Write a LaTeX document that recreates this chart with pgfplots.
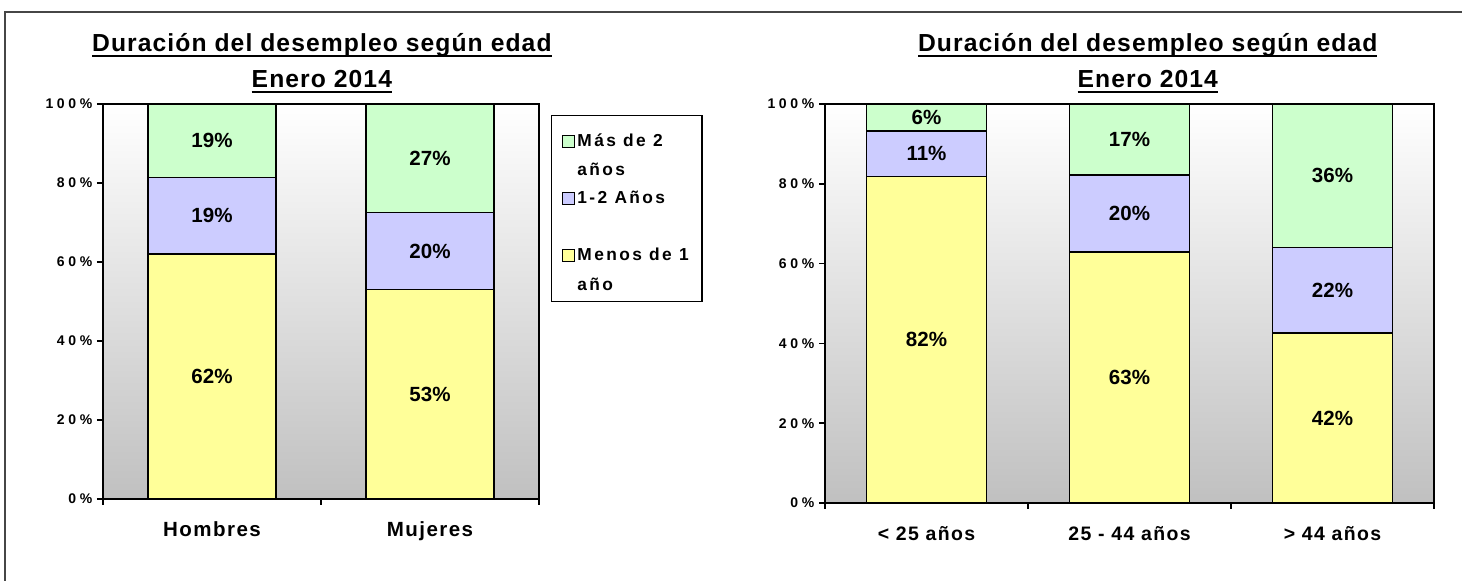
\documentclass[border=0pt]{standalone}
\usepackage{fontspec}
\setmainfont{Liberation Sans}
\newfontfamily\ticksfont[LetterSpace=26]{Liberation Sans}
\newfontfamily\catfont[LetterSpace=7]{Liberation Sans}
\newfontfamily\titlefont[LetterSpace=4.4]{Liberation Sans}
\newfontfamily\legfont[LetterSpace=14]{Liberation Sans}
\usepackage{pgfplots}
\usepackage{pgfplotstable}
\pgfplotsset{compat=1.18}

\definecolor{colmas}{RGB}{204,255,204}
\definecolor{coluno}{RGB}{204,204,255}
\definecolor{colmenos}{RGB}{255,255,153}
\definecolor{fondo}{RGB}{192,192,192}
\definecolor{marco}{RGB}{70,70,70}

% underline a bit below the baseline
\newcommand{\ul}[1]{\leavevmode\setbox0=\hbox{#1}\rlap{\rule[-4pt]{\wd0}{1.4pt}}\box0}

% share of each duration (percent), segments bottom to top
\pgfplotstableread{
x menos uno mas
0 62.0 19.4 18.6
1 53.0 19.5 27.5
}\sexo
\pgfplotstableread{
x menos uno mas
0 81.8 11.5 6.7
1 62.9 19.3 17.8
2 42.6 21.4 36.0
}\edad

\pgfplotsset{
  grafico/.style={
    scale only axis,
    ybar stacked,
    ymin=0, ymax=100,
    ytick={0,20,...,100},
    yticklabels={0\%,20\%,40\%,60\%,80\%,100\%},
    axis x line*=bottom, axis y line*=left,
    axis line style={line width=1.6pt, black},
    axis background/.style={shade, top color=white, bottom color=fondo,
      draw=black, line width=1.1pt},
    tick align=outside,
    major tick length=4.5pt,
    tick style={line width=1.2pt, black},
    x tick label as interval,
    yticklabel style={font=\ticksfont\bfseries\fontsize{10.5}{12}\selectfont},
    xticklabel style={font=\catfont\bfseries\fontsize{15.4}{18}\selectfont,
      anchor=base, yshift=-24pt},
    title style={font=\titlefont\bfseries\fontsize{18.5}{27.4}\selectfont,
      align=center, inner sep=0pt, anchor=south, yshift=2pt},
    every axis plot/.append style={draw=black, line width=1.2pt},
  },
  caja/.style={legend image code/.code={
    \draw[##1, line width=0.6pt] (0pt,#1) rectangle (8.7pt,#1+8.7pt);}},
  etiquetas/.style={
    scale only axis, hide axis,
    ymin=0, ymax=100,
  },
  rotulo/.style={draw=none, mark=none,
    point meta=explicit symbolic,
    nodes near coords={\pgfplotspointmeta\%},
    every node near coord/.append style={anchor=center,
      font=\bfseries\fontsize{15.4}{18}\selectfont}},
}

\begin{document}
\begin{tikzpicture}
\useasboundingbox (0,0) rectangle (1096.5pt,435.75pt);
\draw[marco, line width=1.1pt] (3.75pt,0) -- (3.75pt,426.75pt) -- (1096.5pt,426.75pt);

% ---- left: by sex
\begin{axis}[
  grafico,
  at={(77.25pt,61.5pt)}, anchor=south west,
  width=327pt, height=296.25pt,
  bar width=96pt,
  xmin=-0.5, xmax=1.5,
  xtick={-0.5,0.5,1.5},
  xticklabels={Hombres,Mujeres},
  title={\ul{Duración del desempleo según edad}\\\ul{Enero 2014}},
  title style={at={(0.502,1)}},
  legend style={at={(1.0275,0.972)}, anchor=north west,
    draw=black, line width=1pt,
    font=\legfont\bfseries\fontsize{13}{22}\selectfont,
    cells={align=left}, row sep=6pt, inner xsep=8pt, inner ysep=5pt},
  legend cell align=left,
  reverse legend,
]
\addplot[fill=colmenos, caja=6.5pt] table[x=x, y=menos] {\sexo};
\addlegendentry{Menos de 1\\año}
\addplot[fill=coluno, caja=6.5pt] table[x=x, y=uno] {\sexo};
\addlegendentry{1-2 Años\\\mbox{}}
\addplot[fill=colmas, caja=3pt] table[x=x, y=mas] {\sexo};
\addlegendentry{\rule{0pt}{16pt}Más de 2\\años}
\end{axis}
\begin{axis}[etiquetas,
  at={(77.25pt,61.5pt)}, anchor=south west,
  width=327pt, height=296.25pt, xmin=-0.5, xmax=1.5]
\addplot[rotulo] coordinates {
  (0,31.0)[62] (0,71.7)[19] (0,90.7)[19]
  (1,26.5)[53] (1,62.75)[20] (1,86.25)[27]};
\end{axis}

% ---- right: by age
\begin{axis}[
  grafico,
  at={(618.75pt,58.5pt)}, anchor=south west,
  width=456.75pt, height=299.25pt,
  bar width=90pt,
  xmin=-0.5, xmax=2.5,
  xtick={-0.5,0.5,1.5,2.5},
  xticklabels={< 25 años, 25 - 44 años, > 44 años},
  xticklabel style={font=\catfont\bfseries\fontsize{14.6}{18}\selectfont},
  title={\ul{Duración del desempleo según edad}\\\ul{Enero 2014}},
  title style={at={(0.53,1)}},
]
\addplot[fill=colmenos] table[x=x, y=menos] {\edad};
\addplot[fill=coluno] table[x=x, y=uno] {\edad};
\addplot[fill=colmas] table[x=x, y=mas] {\edad};
\end{axis}
\begin{axis}[etiquetas,
  at={(618.75pt,58.5pt)}, anchor=south west,
  width=456.75pt, height=299.25pt, xmin=-0.5, xmax=2.5]
\addplot[rotulo] coordinates {
  (0,40.9)[82] (0,87.55)[11] (0,96.65)[6]
  (1,31.45)[63] (1,72.55)[20] (1,91.1)[17]
  (2,21.3)[42] (2,53.3)[22] (2,82.0)[36]};
\end{axis}
\end{tikzpicture}
\end{document}
